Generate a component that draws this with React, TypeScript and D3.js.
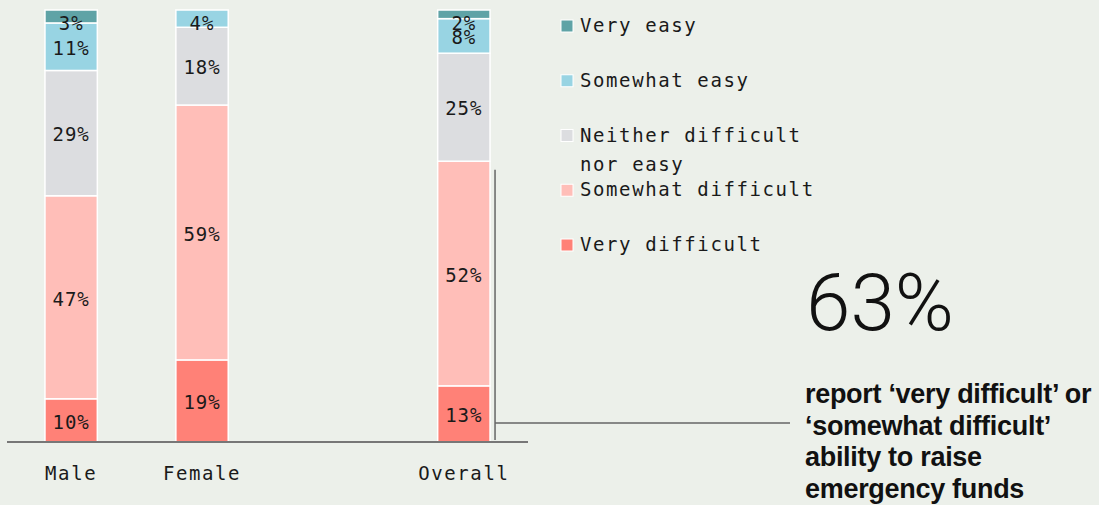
import React from "react";
import * as d3 from "d3";

const categories = ["Male", "Female", "", "Overall"];
const seriesNames = ["Very difficult", "Somewhat difficult", "Neither difficult nor easy", "Somewhat easy", "Very easy"];
const veryDifficult = [10, 19, 0, 13];
const somewhatDifficult = [47, 59, 0, 52];
const neither = [29, 18, 0, 25];
const somewhatEasy = [11, 4, 0, 8];
const veryEasy = [3, 0, 0, 2];
const colors = ["#ff8177", "#ffbeb8", "#dcdde0", "#98d4e3", "#5fa3a6"];
const legendLabels = [["Very easy"], ["Somewhat easy"], ["Neither difficult", "nor easy"], ["Somewhat difficult"], ["Very difficult"]];
const legendColors = ["#5fa3a6", "#98d4e3", "#dcdde0", "#ffbeb8", "#ff8177"];
const bigValue = "63%";
const noteLines = ["report \u2018very difficult\u2019 or", "\u2018somewhat difficult\u2019", "ability to raise", "emergency funds"];
const annotationValue = 63;

const W = 1099, H = 505;
const MONO = "'DejaVu Sans Mono', monospace";

export default function App() {
  const x = d3.scaleBand<string>().domain(categories).range([7, 528]).paddingInner(0.6).paddingOuter(0.29);
  const y = d3.scaleLinear().domain([0, 100]).range([442, 10]);
  const rows = categories.map((c, i) => ({
    cat: c,
    s0: veryDifficult[i], s1: somewhatDifficult[i], s2: neither[i], s3: somewhatEasy[i], s4: veryEasy[i],
  }));
  const stack = d3.stack<any>().keys(["s0", "s1", "s2", "s3", "s4"])(rows);
  const overallX = (x("Overall") as number) + x.bandwidth();

  return (
    <svg width={W} height={H} style={{ position: "fixed", left: 0, top: 0 }}>
      <rect x={0} y={0} width={W} height={H} fill="#ecf0ea" />
      {stack.map((layer, li) => (
        <g key={li}>
          {layer.map((d, ci) => {
            const v = d[1] - d[0];
            if (v <= 0) return null;
            const x0 = x(categories[ci]) as number;
            const top = y(d[1]), bot = y(d[0]);
            const mid = Math.max((top + bot) / 2 + 1, y(100) + 13);
            return (
              <g key={ci}>
                <rect x={x0} y={top} width={x.bandwidth()} height={bot - top} fill={colors[li]} stroke="#ffffff" strokeWidth={1.5} />
                <text x={x0 + x.bandwidth() / 2} y={mid} dy="0.38em" textAnchor="middle" fontFamily={MONO} fontSize={19} letterSpacing={1} fill="#1a1a1a">{v}%</text>
              </g>
            );
          })}
        </g>
      ))}
      <line x1={7} x2={528} y1={y(0)} y2={y(0)} stroke="#777" strokeWidth={2} />
      {categories.map((c) => c && (
        <text key={c} x={(x(c) as number) + x.bandwidth() / 2} y={480} textAnchor="middle" fontFamily={MONO} fontSize={19} letterSpacing={1.6} fill="#1a1a1a">{c}</text>
      ))}
      <line x1={overallX + 5} x2={overallX + 5} y1={y(annotationValue)} y2={y(0) - 2} stroke="#666" strokeWidth={1.5} />
      <line x1={overallX + 5} x2={790} y1={423} y2={423} stroke="#666" strokeWidth={1.5} />
      {legendLabels.map((lines, i) => {
        const by = 32 + i * 54.75;
        return (
          <g key={i}>
            <rect x={561} y={by - 12} width={12} height={12} fill={legendColors[i]} stroke="#fff" strokeWidth={1} />
            {lines.map((t, j) => (
              <text key={j} x={580} y={by + j * 29} fontFamily={MONO} fontSize={19} letterSpacing={1.6} fill="#1a1a1a">{t}</text>
            ))}
          </g>
        );
      })}
      <text x={806} y={330} fontFamily="Roboto, sans-serif" fontWeight={300} fontSize={80} fill="#111">{bigValue}</text>
      {noteLines.map((t, i) => (
        <text key={i} x={805} y={403 + i * 31.5} fontFamily="'Liberation Sans', Arial, sans-serif" fontWeight={700} fontSize={27} letterSpacing={-0.3} fill="#111">{t}</text>
      ))}
    </svg>
  );
}
